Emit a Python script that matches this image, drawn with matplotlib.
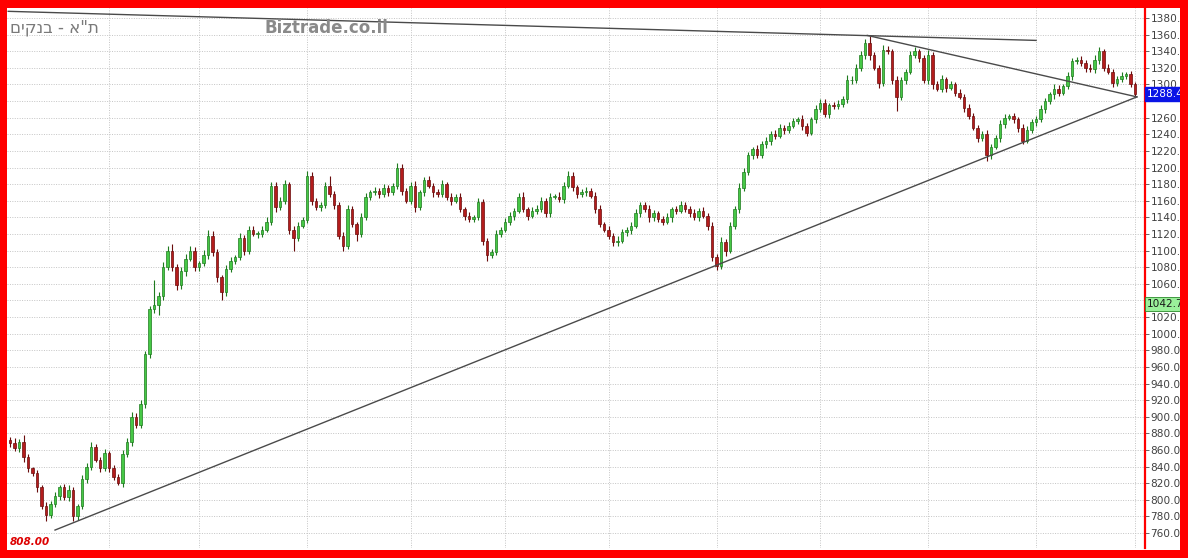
import numpy as np
import matplotlib.pyplot as plt
from matplotlib.patches import Rectangle
import matplotlib.transforms as mtransforms


# Daily closes of the index (10 per row)
closes = [
    868, 862, 870, 852, 838, 832, 815, 792, 782, 795,
    805, 815, 803, 812, 780, 792, 825, 840, 864, 848,
    838, 856, 838, 828, 820, 855, 870, 900, 890, 915,
    975, 1030, 1035, 1045, 1080, 1100, 1080, 1058, 1075, 1090,
    1100, 1080, 1085, 1095, 1118, 1098, 1068, 1050, 1078, 1088,
    1092, 1115, 1100, 1125, 1120, 1120, 1125, 1135, 1178, 1152,
    1160, 1180, 1125, 1115, 1130, 1137, 1190, 1160, 1152, 1155,
    1178, 1168, 1155, 1118, 1105, 1150, 1132, 1120, 1140, 1165,
    1170, 1172, 1168, 1175, 1170, 1178, 1200, 1172, 1160, 1178,
    1152, 1170, 1185, 1178, 1170, 1168, 1180, 1165, 1160, 1165,
    1150, 1142, 1138, 1140, 1158, 1112, 1095, 1098, 1120, 1125,
    1135, 1142, 1148, 1165, 1150, 1142, 1148, 1150, 1160, 1145,
    1165, 1165, 1162, 1178, 1190, 1176, 1168, 1170, 1172, 1166,
    1150, 1132, 1125, 1118, 1110, 1112, 1122, 1125, 1130, 1145,
    1155, 1150, 1140, 1145, 1138, 1135, 1140, 1150, 1148, 1155,
    1150, 1145, 1140, 1148, 1142, 1130, 1092, 1082, 1110, 1100,
    1130, 1150, 1175, 1195, 1215, 1222, 1215, 1228, 1232, 1240,
    1238, 1248, 1245, 1250, 1256, 1258, 1250, 1242, 1258, 1270,
    1278, 1265, 1275, 1274, 1276, 1282, 1305, 1305, 1320, 1335,
    1350, 1335, 1320, 1302, 1342, 1340, 1305, 1285, 1305, 1315,
    1336, 1340, 1332, 1305, 1336, 1300, 1295, 1306, 1296, 1300,
    1290, 1285, 1272, 1262, 1248, 1236, 1240, 1215, 1225, 1235,
    1252, 1260, 1262, 1258, 1248, 1232, 1245, 1255, 1258, 1270,
    1280, 1288, 1295, 1290, 1298, 1310, 1328, 1330, 1326, 1320,
    1318, 1330, 1340, 1320, 1315, 1302, 1306, 1310, 1312, 1300,
    1288.4,
]
first_open = 872

# upper / lower shadow lengths (points above the body top, below the body bottom)
wick_up = [
    4, 6, 3, 8, 3, 2, 4, 3, 5, 4,
    5, 3, 4, 6, 4, 3, 5, 4, 6, 3,
    4, 5, 3, 4, 3, 5, 4, 6, 4, 5,
    4, 3, 30, 5, 6, 5, 8, 4, 5, 6,
    5, 4, 3, 6, 7, 5, 4, 3, 5, 4,
    3, 6, 4, 5, 4, 3, 5, 6, 5, 4,
    4, 5, 3, 4, 5, 4, 6, 5, 3, 4,
    5, 12, 4, 3, 4, 5, 4, 3, 5, 4,
    3, 4, 3, 5, 4, 3, 5, 4, 3, 4,
    6, 3, 4, 5, 3, 4, 5, 3, 4, 3,
    4, 3, 4, 3, 5, 4, 3, 4, 5, 3,
    4, 5, 3, 4, 5, 3, 4, 5, 4, 3,
    4, 3, 5, 4, 6, 4, 3, 4, 5, 3,
    4, 5, 3, 4, 3, 5, 4, 3, 4, 5,
    4, 3, 5, 4, 3, 4, 5, 3, 4, 5,
    3, 4, 5, 3, 4, 3, 5, 4, 6, 4,
    5, 4, 6, 5, 4, 3, 5, 4, 5, 4,
    5, 4, 3, 5, 4, 3, 5, 4, 3, 5,
    4, 5, 3, 4, 5, 4, 6, 5, 4, 5,
    5, 8, 4, 3, 5, 4, 3, 5, 4, 3,
    4, 5, 3, 4, 5, 3, 4, 5, 3, 4,
    3, 4, 3, 5, 4, 3, 4, 5, 3, 4,
    5, 4, 3, 4, 3, 4, 5, 3, 4, 5,
    4, 3, 5, 4, 3, 5, 4, 3, 4, 3,
    4, 5, 5, 3, 4, 3, 4, 5, 3, 4,
    3,
]
wick_dn = [
    5, 3, 4, 6, 4, 3, 5, 3, 7, 4,
    4, 5, 3, 4, 5, 4, 3, 5, 4, 3,
    4, 3, 5, 4, 2, 4, 3, 5, 4, 3,
    5, 4, 5, 13, 4, 3, 5, 6, 4, 5,
    3, 5, 4, 3, 5, 4, 6, 10, 5, 4,
    4, 3, 5, 4, 3, 5, 4, 3, 4, 5,
    3, 4, 5, 15, 4, 3, 4, 5, 3, 4,
    4, 3, 5, 4, 5, 3, 4, 8, 4, 3,
    4, 3, 5, 3, 4, 3, 4, 5, 3, 4,
    5, 3, 4, 3, 5, 4, 3, 4, 5, 3,
    4, 5, 3, 4, 3, 5, 8, 4, 3, 4,
    3, 4, 5, 3, 4, 5, 3, 4, 3, 5,
    4, 3, 4, 5, 3, 4, 5, 3, 4, 3,
    5, 4, 3, 4, 5, 4, 3, 4, 5, 3,
    4, 3, 5, 4, 3, 4, 3, 5, 4, 3,
    4, 5, 3, 4, 3, 5, 4, 5, 4, 6,
    3, 4, 5, 3, 4, 5, 4, 3, 4, 5,
    4, 3, 5, 4, 3, 4, 5, 4, 3, 4,
    3, 4, 5, 3, 4, 3, 4, 5, 3, 4,
    4, 5, 3, 6, 4, 3, 5, 17, 4, 5,
    3, 4, 5, 3, 4, 5, 3, 4, 5, 3,
    4, 3, 5, 4, 3, 5, 4, 7, 5, 3,
    4, 5, 3, 4, 5, 4, 3, 4, 5, 3,
    4, 3, 5, 4, 3, 4, 5, 3, 4, 5,
    3, 4, 5, 4, 3, 5, 4, 3, 4, 3,
    3,
]

# candle index where a new month starts (vertical grid)
month_starts = [22, 42, 66, 89, 110, 133, 157, 180, 204, 228, 250]

# trend lines drawn by hand on the chart: (start idx, end idx), (start price, end price)
trend_x = [(-0.4, 228), (190.5, 250.4), (10, 250.4)]
trend_y = [(1388, 1353), (1359, 1285), (763.6, 1285)]

price_ticks = np.arange(760, 1381, 20)
hidden_ticks = [1040, 1280]  # covered by the price boxes
last_price = 1288.4
marker_price = 1042.7
title_he = 'ת"א - בנקים'
low_label = '808.00'

W, H = 1188, 558


def draw_candles(ax):
    """
    Draws the candles: wick first, body on top
    """
    idx = np.arange(len(closes))
    c = np.array(closes, dtype=float)
    o = np.array([first_open] + closes[:-1], dtype=float)
    top = np.maximum(o, c)
    bot = np.minimum(o, c)
    hi = top + np.array(wick_up)
    lo = bot - np.array(wick_dn)
    up = c >= o

    face = np.where(up, '#46c846', '#b41c1c')
    edge = np.where(up, '#1e7a1e', '#6a0c0c')
    height = np.maximum(top - bot, 0.9)

    ax.vlines(idx, lo, hi, colors=edge, linewidth=0.8, zorder=2)
    ax.bar(idx, height, bottom=bot, width=0.58, color=face, edgecolor=edge,
           linewidth=0.5, zorder=3)


def main():
    fig = plt.figure(figsize=(W / 100, H / 100), dpi=100)
    fig.patch.set_facecolor('white')

    # plot area in pixels: x 7..1145, y 10..550 from the bottom
    ax = fig.add_axes([7 / W, 10 / H, 1138 / W, 540 / H])
    ax.set_facecolor('white')

    draw_candles(ax)

    # trend lines
    for tx, ty in zip(trend_x, trend_y):
        ax.plot(tx, ty, color='#4a4a4a', linewidth=1.0, zorder=4)

    ax.set_xlim(-0.67, 252.2)
    ax.set_ylim(742, 1392)

    # grid
    ax.set_xticks(month_starts)
    ax.set_xticklabels([])
    ax.set_yticks(price_ticks)
    ax.set_yticklabels(['' if v in hidden_ticks else '%.1f' % v for v in price_ticks])
    ax.grid(True, color='#c4c4c4', linestyle=(0, (1, 1.5)), linewidth=0.7, zorder=0)
    ax.set_axisbelow(True)

    ax.yaxis.tick_right()
    ax.tick_params(axis='y', direction='out', length=3, width=0.7, color='#666666',
                   labelsize=7.6, labelcolor='#404040', pad=1)
    ax.tick_params(axis='x', length=0)

    for side in ['top', 'bottom', 'left']:
        ax.spines[side].set_visible(False)
    ax.spines['right'].set_color('#ff0000')
    ax.spines['right'].set_linewidth(1.6)

    # price labels on the right axis
    trans = mtransforms.blended_transform_factory(ax.transAxes, ax.transData)
    ax.text(1.0015, last_price, '%.1f' % last_price, transform=trans, ha='left', va='center',
            fontsize=7.6, color='white', zorder=6, clip_on=False,
            bbox=dict(boxstyle='square,pad=0.18', facecolor='#0a14e6', edgecolor='#0a14e6'))
    ax.text(1.0015, marker_price - 7, '%.1f' % marker_price, transform=trans, ha='left',
            va='center', fontsize=7.6, color='#1a1a1a', zorder=6, clip_on=False,
            bbox=dict(boxstyle='square,pad=0.18', facecolor='#9af09a', edgecolor='#2a8a2a',
                      linewidth=0.6))

    # titles (matplotlib has no bidi, so the Hebrew is given in visual order)
    fig.text(10 / W, 1 - 28 / H, title_he[::-1], fontsize=12, color='#7a7a7a',
             ha='left', va='center', family=['DejaVu Sans'])
    fig.text(265 / W, 1 - 28 / H, 'Biztrade.co.il', fontsize=12, color='#8a8a8a',
             fontweight='bold', ha='left', va='center')
    fig.text(10 / W, 1 - 542 / H, low_label, fontsize=7.5, color='#dd0000',
             fontweight='bold', fontstyle='italic', ha='left', va='center')

    # red frame around everything (covers the ends of the axis labels)
    frame = [(0, 0, W, 8), (0, H - 8, W, 8), (0, 0, 7, H), (1180, 0, 8, H)]
    for x, y, w, h in frame:
        fig.patches.append(Rectangle((x / W, y / H), w / W, h / H, transform=fig.transFigure,
                                     facecolor='#ff0000', edgecolor='none', zorder=20))

    fig.savefig('out.png', dpi=100, facecolor=fig.get_facecolor())


if __name__ == "__main__":
    main()
